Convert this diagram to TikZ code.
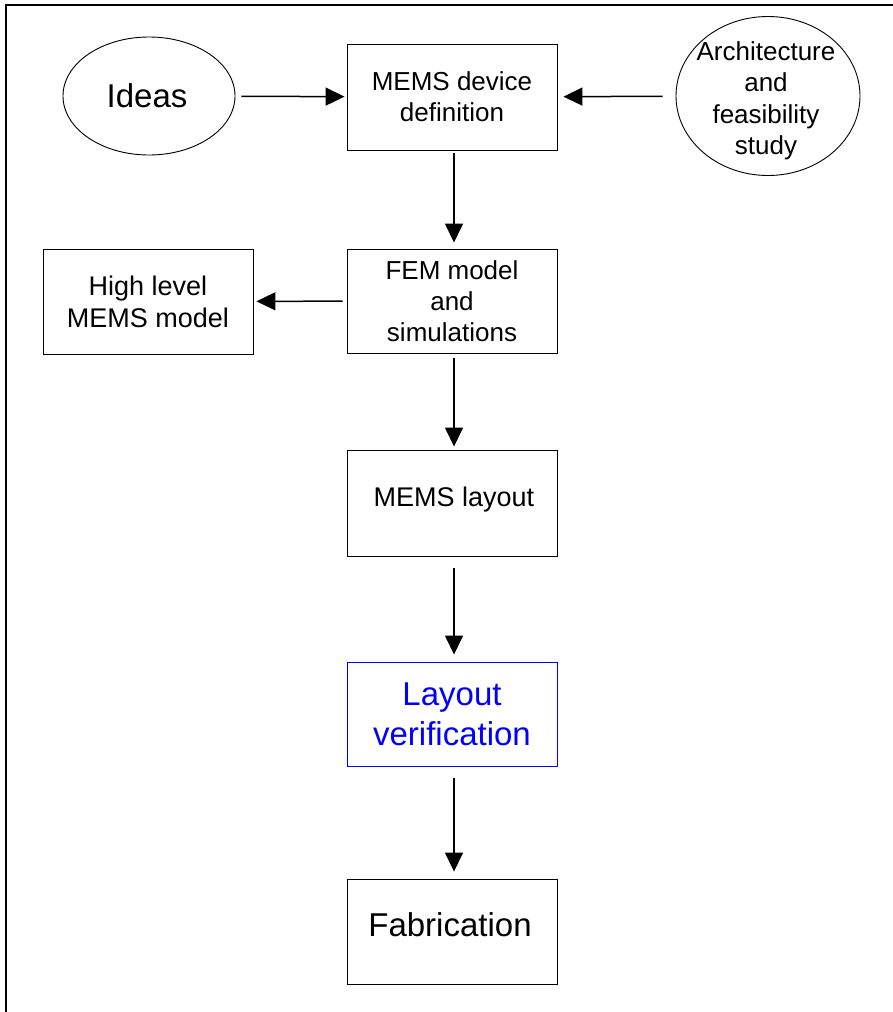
\documentclass[tikz,border=0pt]{standalone}
\usepackage{fontspec}
\setmainfont{Liberation Sans}
\usetikzlibrary{shapes.geometric,arrows.meta}
\definecolor{pureblue}{RGB}{0,0,255}
\tikzset{
  box/.style={draw=black,line width=0.9pt,rectangle,minimum width=210pt,inner sep=0pt,align=center,font=\fontsize{26}{31}\selectfont},
  bigbox/.style={box,font=\fontsize{33}{40}\selectfont},
  oval/.style={draw=black,line width=0.9pt,ellipse,inner sep=0pt},
  flow/.style={line width=1.5pt,-{Triangle[length=19pt,width=18pt]}},
  txt/.style={inner sep=0pt,align=center}
}
\begin{document}
\begin{tikzpicture}[x=1pt,y=-1pt]
\useasboundingbox (0,0) rectangle (893,1012);
% outer frame
\draw[line width=1.4pt] (6,1015) -- (6,5) -- (896,5);
% nodes
\node[oval,minimum width=172pt,minimum height=118pt] (ideas) at (149,96) {};
\node[txt,font=\fontsize{33}{40}\selectfont] (ideastext) at (147,96) {Ideas};
\node[oval,minimum width=184pt,minimum height=159pt] (arch) at (768,96) {};
\node[txt,font=\fontsize{26}{31.5}\selectfont] (archtext) at (766,101) {Architecture\\and\\feasibility\\study};
\node[box,minimum height=106pt] (def) at (452,97) {MEMS device\\definition};
\node[box,minimum height=104pt] (fem) at (452,301) {FEM model\\and\\simulations};
\node[box,minimum height=105pt,font=\fontsize{27}{32}\selectfont] (high) at (148,301.5) {High level\\MEMS model};
\node[box,minimum height=106pt] (layout) at (452,503) {};
\node[txt,font=\fontsize{27}{32}\selectfont] (layouttext) at (454,500) {MEMS layout};
\node[bigbox,draw=pureblue,text=pureblue,minimum height=104pt] (verif) at (452,714) {Layout\\verification};
\node[bigbox,minimum height=105pt] (fab) at (452,931.5) {};
\node[txt,font=\fontsize{33}{40}\selectfont] (fabtext) at (450,925) {Fabrication};
% connectors
\draw[flow,shorten <=6pt,shorten >=2pt] (ideas) -- (def);
\draw[flow,shorten <=13pt,shorten >=6pt] (arch) -- (def);
\draw[flow,shorten <=3pt,shorten >=6pt] ([xshift=2pt]def.south) -- ([xshift=2pt]fem.north);
\draw[flow,shorten <=4pt,shorten >=3pt] (fem) -- (high);
\draw[flow,shorten <=5pt,shorten >=3pt] ([xshift=2pt]fem.south) -- ([xshift=2pt]layout.north);
\draw[flow,shorten <=12pt,shorten >=7pt] ([xshift=2pt]layout.south) -- ([xshift=2pt]verif.north);
\draw[flow,shorten <=12pt,shorten >=7pt] ([xshift=2pt]verif.south) -- ([xshift=2pt]fab.north);
\end{tikzpicture}
\end{document}
